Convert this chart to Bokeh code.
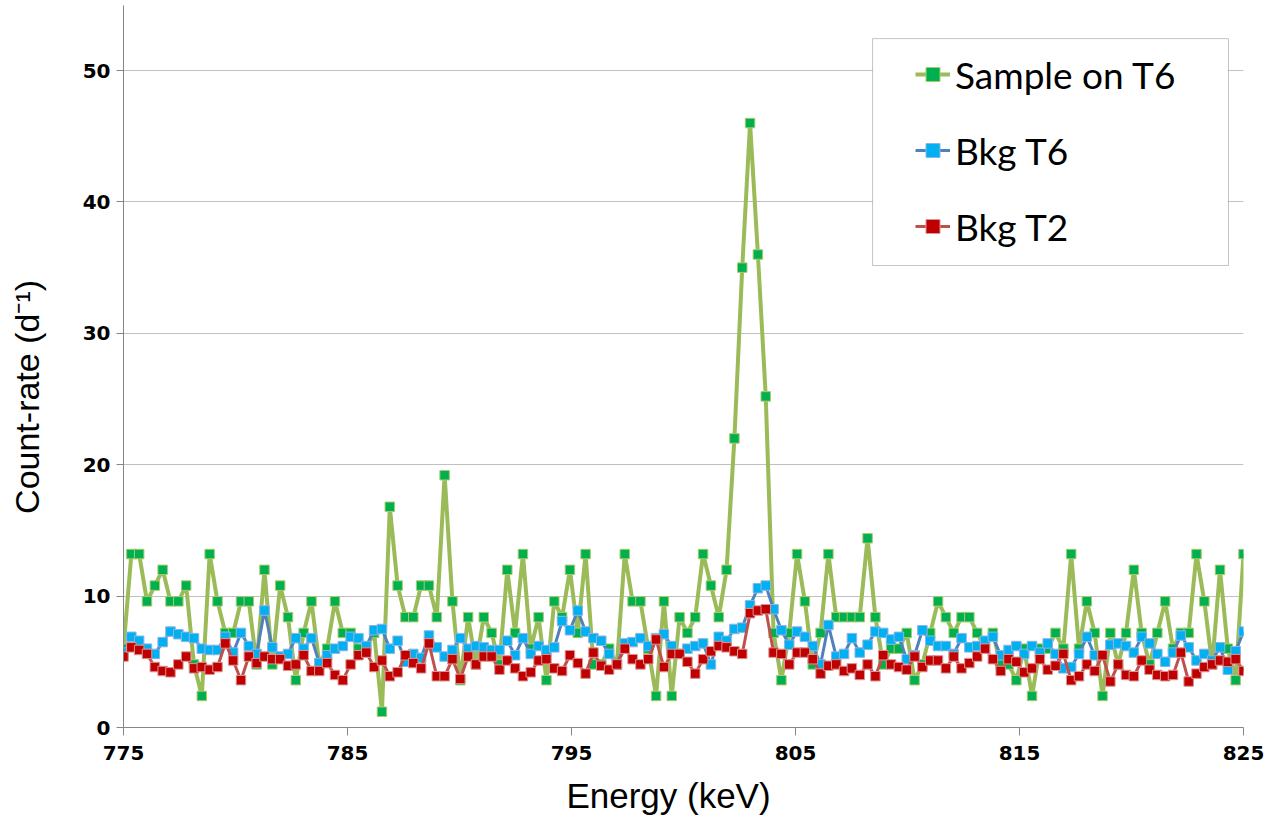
import math
from bokeh.plotting import figure
from bokeh.layouts import row, column
from bokeh.models import (Range1d, FixedTicker, Legend, LegendItem,
                          BoxAnnotation, Label)
from bokeh.embed import file_html
from bokeh.resources import INLINE

# ---- data ----
n_points = 144
energy = [775 + i * 50.0 / (n_points - 1) for i in range(n_points)]  # channel energies (keV)

sample_t6 = [
    6.0, 13.2, 13.2, 9.6, 10.8, 12.0, 9.6, 9.6, 10.8, 4.8,
    2.4, 13.2, 9.6, 7.2, 7.2, 9.6, 9.6, 4.8, 12.0, 4.8,
    10.8, 8.4, 3.6, 7.2, 9.6, 4.8, 6.0, 9.6, 7.2, 7.2,
    6.0, 6.0, 7.2, 1.2, 16.8, 10.8, 8.4, 8.4, 10.8, 10.8,
    8.4, 19.2, 9.6, 3.6, 8.4, 4.8, 8.4, 7.2, 4.8, 12.0,
    7.2, 13.2, 6.0, 8.4, 3.6, 9.6, 8.4, 12.0, 7.2, 13.2,
    4.8, 4.8, 6.0, 4.8, 13.2, 9.6, 9.6, 6.0, 2.4, 9.6,
    2.4, 8.4, 7.2, 8.4, 13.2, 10.8, 8.4, 12.0, 22.0, 35.0,
    46.0, 36.0, 25.2, 7.2, 3.6, 7.2, 13.2, 9.6, 4.8, 7.2,
    13.2, 8.4, 8.4, 8.4, 8.4, 14.4, 8.4, 4.8, 6.0, 6.0,
    7.2, 3.6, 4.8, 7.2, 9.6, 8.4, 7.2, 8.4, 8.4, 7.2,
    6.0, 7.2, 4.8, 4.8, 3.6, 6.0, 2.4, 6.0, 6.0, 7.2,
    6.0, 13.2, 6.0, 9.6, 7.2, 2.4, 7.2, 4.8, 7.2, 12.0,
    7.2, 4.8, 7.2, 9.6, 6.0, 7.2, 7.2, 13.2, 9.6, 4.8,
    12.0, 6.0, 3.6, 13.2,
]

bkg_t6 = [
    5.7, 6.9, 6.6, 6.0, 5.6, 6.5, 7.3, 7.1, 6.9, 6.8,
    6.0, 5.9, 5.9, 6.9, 5.7, 7.2, 6.2, 5.6, 8.9, 6.1,
    5.4, 5.6, 6.8, 6.0, 6.8, 4.9, 5.5, 6.0, 6.2, 6.9,
    6.8, 6.2, 7.4, 7.5, 6.0, 6.6, 5.0, 5.6, 5.3, 7.0,
    6.1, 5.4, 5.9, 6.8, 6.0, 6.2, 6.1, 5.9, 5.9, 6.6,
    5.5, 6.8, 5.6, 6.2, 5.9, 6.1, 8.1, 7.4, 8.9, 7.3,
    6.8, 6.6, 5.6, 4.8, 6.4, 6.5, 6.8, 6.2, 6.8, 7.1,
    6.2, 5.6, 6.0, 6.2, 6.4, 4.8, 6.9, 6.6, 7.5, 7.6,
    9.3, 10.6, 10.8, 9.0, 7.4, 6.3, 7.3, 6.9, 6.2, 4.8,
    7.8, 5.4, 5.6, 6.8, 5.7, 6.3, 7.3, 7.2, 6.7, 6.9,
    5.2, 5.5, 7.4, 6.6, 6.2, 6.2, 5.6, 6.8, 6.1, 6.2,
    6.6, 6.9, 5.5, 5.9, 6.2, 5.6, 6.2, 5.7, 6.4, 5.6,
    4.5, 4.6, 5.6, 6.9, 5.5, 5.5, 6.3, 6.4, 6.2, 5.7,
    6.9, 6.4, 5.6, 5.0, 5.7, 7.0, 6.1, 5.1, 5.6, 5.1,
    6.1, 4.4, 5.8, 7.3,
]

bkg_t2 = [
    5.4, 6.1, 5.9, 5.6, 4.6, 4.3, 4.2, 4.8, 5.4, 4.5,
    4.6, 4.4, 4.6, 6.4, 5.1, 3.6, 5.4, 4.9, 5.4, 5.2,
    5.2, 4.7, 4.8, 5.5, 4.3, 4.3, 4.9, 4.0, 3.6, 4.8,
    5.5, 5.7, 4.6, 5.1, 3.9, 4.2, 5.5, 4.9, 4.5, 6.4,
    3.9, 3.9, 5.2, 3.7, 5.4, 4.8, 5.4, 5.4, 4.4, 5.1,
    4.5, 3.9, 4.2, 5.1, 5.2, 4.5, 4.3, 5.5, 4.9, 4.1,
    5.7, 4.7, 4.4, 4.8, 6.0, 5.2, 4.8, 5.2, 6.7, 4.6,
    5.6, 5.6, 5.0, 4.1, 5.2, 5.8, 6.2, 6.1, 5.8, 5.6,
    8.7, 8.9, 9.0, 5.7, 5.6, 4.8, 5.7, 5.7, 5.2, 4.1,
    4.7, 4.8, 4.3, 4.5, 4.0, 4.8, 3.9, 5.5, 4.8, 4.6,
    4.4, 5.4, 4.6, 5.1, 5.1, 4.5, 5.4, 4.5, 4.9, 5.4,
    6.0, 5.2, 4.3, 5.2, 5.0, 4.2, 4.5, 5.2, 4.4, 4.7,
    5.6, 3.6, 3.9, 4.8, 4.3, 5.5, 3.5, 4.8, 4.0, 3.9,
    5.1, 4.4, 4.0, 3.9, 4.0, 5.7, 3.5, 4.1, 4.6, 4.8,
    5.1, 5.0, 5.2, 4.3,
]

series_names = ["Sample on T6", "Bkg T6", "Bkg T2"]
x_ticks = [775, 785, 795, 805, 815, 825]
y_ticks = [0, 10, 20, 30, 40, 50]
x_title = "Energy (keV)"
y_title = "Count-rate (d\u207b\u00b9)"

# ---- layout sizes (px) ----
W_TOTAL, H_TOTAL = 1269, 816
W_YT = 48           # strip holding the y-axis title
H_XT = 45           # strip holding the x-axis title
W_MAIN = W_TOTAL - W_YT
H_MAIN = H_TOTAL - H_XT

# ---- main figure ----
p = figure(width=W_MAIN, height=H_MAIN, output_backend="svg", toolbar_location=None,
           x_range=Range1d(775, 825), y_range=Range1d(0, 54.95),
           min_border_left=123 - W_YT, min_border_right=26, min_border_top=5,
           min_border_bottom=44, title=None)
p.outline_line_color = None
p.background_fill_color = "white"
p.xgrid.visible = False
p.ygrid.grid_line_color = "#c0c0c0"
p.ygrid.grid_line_width = 1

for ax in (p.xaxis, p.yaxis):
    ax.axis_line_color = "#868686"
    ax.major_tick_line_color = "#868686"
    ax.minor_tick_line_color = None
    ax.major_tick_in = 0
    ax.major_label_text_font = "DejaVu Sans"
    ax.major_label_text_font_style = "bold"
    ax.major_label_text_font_size = "20px"
    ax.major_label_text_color = "black"

p.xaxis.ticker = FixedTicker(ticks=x_ticks)
p.yaxis.ticker = FixedTicker(ticks=y_ticks)
p.xaxis.major_tick_out = 8
p.yaxis.major_tick_out = 7
p.xaxis.major_label_standoff = 10
p.yaxis.major_label_standoff = 6

styles = [
    (sample_t6, "#9BBB59", 4, "#00B050", "#A9CC6A"),
    (bkg_t6, "#4F81BD", 3, "#00B0F0", "#8EB4E3"),
    (bkg_t2, "#C0504D", 3, "#C00000", "#D99694"),
]
items = []
for name, (vals, lc, lw, mf, ml) in zip(series_names, styles):
    r1 = p.line(energy, vals, line_color=lc, line_width=lw)
    r2 = p.scatter(energy, vals, marker="square", size=9.5, fill_color=mf,
                   line_color=ml, line_width=1)
    items.append(LegendItem(label=name, renderers=[r1, r2]))

# legend box
box = BoxAnnotation(left=808.44, right=824.33, bottom=35.16, top=52.43,
                    fill_color="white", fill_alpha=1.0,
                    line_color="#404040", line_width=1)
p.add_layout(box)

legend = Legend(items=items, location=(792, 478), orientation="vertical",
                glyph_width=35, glyph_height=46, label_height=46,
                label_standoff=5, spacing=30, padding=0, margin=0,
                label_text_font="Lato", label_text_font_size="37px",
                label_text_color="black",
                background_fill_alpha=0, border_line_alpha=0)
p.add_layout(legend, "center")


def strip(width, height):
    f = figure(width=width, height=height, output_backend="svg",
               toolbar_location=None, x_axis_location=None, y_axis_location=None,
               x_range=Range1d(0, width), y_range=Range1d(0, height),
               min_border=0, title=None)
    f.outline_line_color = None
    f.xgrid.visible = False
    f.ygrid.visible = False
    return f


# y-axis title strip
yt = strip(W_YT, H_MAIN)
yt.add_layout(Label(x=26, y=H_MAIN - 418, text=y_title, angle=math.pi / 2,
                    text_align="center", text_baseline="middle",
                    text_font="Liberation Sans", text_font_size="34px",
                    text_color="black"))

# x-axis title strip
xt = strip(W_TOTAL, H_XT)
xt.add_layout(Label(x=668, y=H_TOTAL - 795, text=x_title,
                    text_align="center", text_baseline="middle",
                    text_font="Liberation Sans", text_font_size="35px",
                    text_color="black"))

layout = column(row(yt, p, spacing=0), xt, spacing=0)

open("out.html", "w").write(file_html(layout, INLINE))
